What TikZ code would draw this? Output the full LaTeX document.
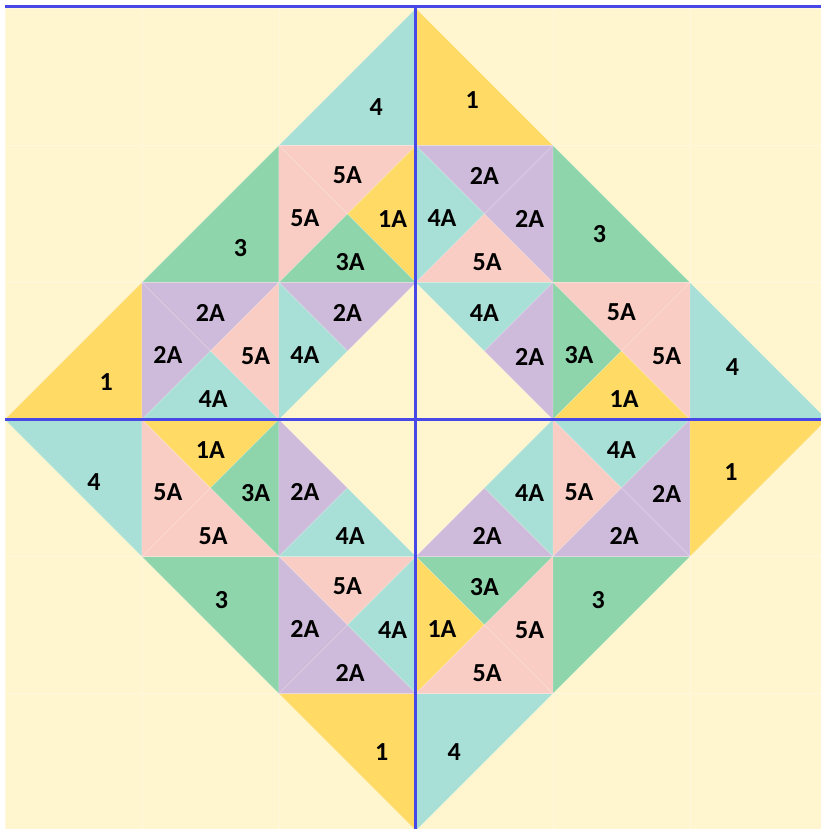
\documentclass[tikz,border=0pt]{standalone}
\usepackage{fontspec}
\setmainfont{Carlito}
\definecolor{bgyel}{HTML}{FFF5CE}
\definecolor{c1}{HTML}{FFDB66}
\definecolor{c2}{HTML}{CEBADA}
\definecolor{c3}{HTML}{8FD5AB}
\definecolor{c4}{HTML}{A8DFD6}
\definecolor{c5}{HTML}{F9CCC4}
\definecolor{axisblue}{RGB}{72,72,230}
% one quarter of a square: piece, three corners, label position, name
\newcommand{\qtr}[6]{%
  \ifnum#1>0
    \fill[tri=c#1] #2 -- #3 -- #4 -- cycle;
    \node[lab] (#6) at #5 {#1A};
  \fi}
% square cut on both diagonals: name, lower left corner, top/left/right/bottom pieces
\newcommand{\tile}[7]{%
  \qtr{#4}{(#2,#3+1)}{(#2+1,#3+1)}{(#2+.5,#3+.5)}{(#2+.5,#3+.78)}{#1t}
  \qtr{#5}{(#2,#3)}{(#2,#3+1)}{(#2+.5,#3+.5)}{(#2+.19,#3+.47)}{#1l}
  \qtr{#6}{(#2+1,#3)}{(#2+1,#3+1)}{(#2+.5,#3+.5)}{(#2+.83,#3+.46)}{#1r}
  \qtr{#7}{(#2,#3)}{(#2+1,#3)}{(#2+.5,#3+.5)}{(#2+.52,#3+.15)}{#1b}}
\begin{document}
\begin{tikzpicture}[x=2.5cm,y=2.5cm,font=\fontsize{13.5}{15}\selectfont\bfseries,
  tri/.style={fill=#1,draw=white,draw opacity=.25,line width=.3pt},
  lab/.style={inner sep=0pt},
  seam/.style={white,opacity=.3,line width=.4pt},
  axis/.style={axisblue,line width=1.5pt}]
  \useasboundingbox[fill=white] (-3.036,-2.989) rectangle (2.956,3.062);
  \fill[bgyel] (-3,-2.989) rectangle (2.956,3.026);
  \draw[seam,step=2.5cm] (-3,-2.989) grid (2.956,3.026);
  % big corner triangles
  \foreach \n/\a/\b/\c/\l [count=\i] in {
      4/{-1,2}/{0,3}/{0,2}/{-.29,2.28}, 1/{0,3}/{1,2}/{0,2}/{.41,2.33},
      3/{-1,2}/{-2,1}/{-1,1}/{-1.28,1.25}, 1/{-2,1}/{-3,0}/{-2,0}/{-2.26,.27},
      3/{1,2}/{2,1}/{1,1}/{1.34,1.35}, 4/{2,1}/{3,0}/{2,0}/{2.31,.38},
      4/{-3,0}/{-2,0}/{-2,-1}/{-2.35,-.46}, 3/{-2,-1}/{-1,-1}/{-1,-2}/{-1.42,-1.32},
      1/{-1,-2}/{0,-2}/{0,-3}/{-.25,-2.43}, 4/{0,-2}/{1,-2}/{0,-3}/{.28,-2.43},
      3/{1,-1}/{2,-1}/{1,-2}/{1.33,-1.32}, 1/{2,0}/{3,0}/{2,-1}/{2.3,-.38}}{
    \fill[tri=c\n] (\a) -- (\b) -- (\c) -- cycle;
    \node[lab] (big\i) at (\l) {\n};
  }
  % squares, 0 = left empty
  \tile{tl}{-1}{1}{5}{5}{1}{3}
  \tile{tr}{0}{1}{2}{4}{2}{5}
  \tile{ml}{-2}{0}{2}{2}{5}{4}
  \tile{mr}{1}{0}{5}{3}{5}{1}
  \tile{nl}{-2}{-1}{1}{5}{3}{5}
  \tile{nr}{1}{-1}{4}{5}{2}{2}
  \tile{bl}{-1}{-2}{5}{2}{4}{2}
  \tile{br}{0}{-2}{3}{1}{5}{5}
  \tile{hul}{-1}{0}{2}{4}{0}{0}
  \tile{hur}{0}{0}{4}{0}{2}{0}
  \tile{hdl}{-1}{-1}{0}{2}{0}{4}
  \tile{hdr}{0}{-1}{0}{0}{4}{2}
  % axes
  \draw[axis] (-3,3.016) -- (2.956,3.016);
  \draw[axis] (-3,0) -- (2.956,0);
  \draw[axis] (0,3.016) -- (0,-2.989);
\end{tikzpicture}
\end{document}
